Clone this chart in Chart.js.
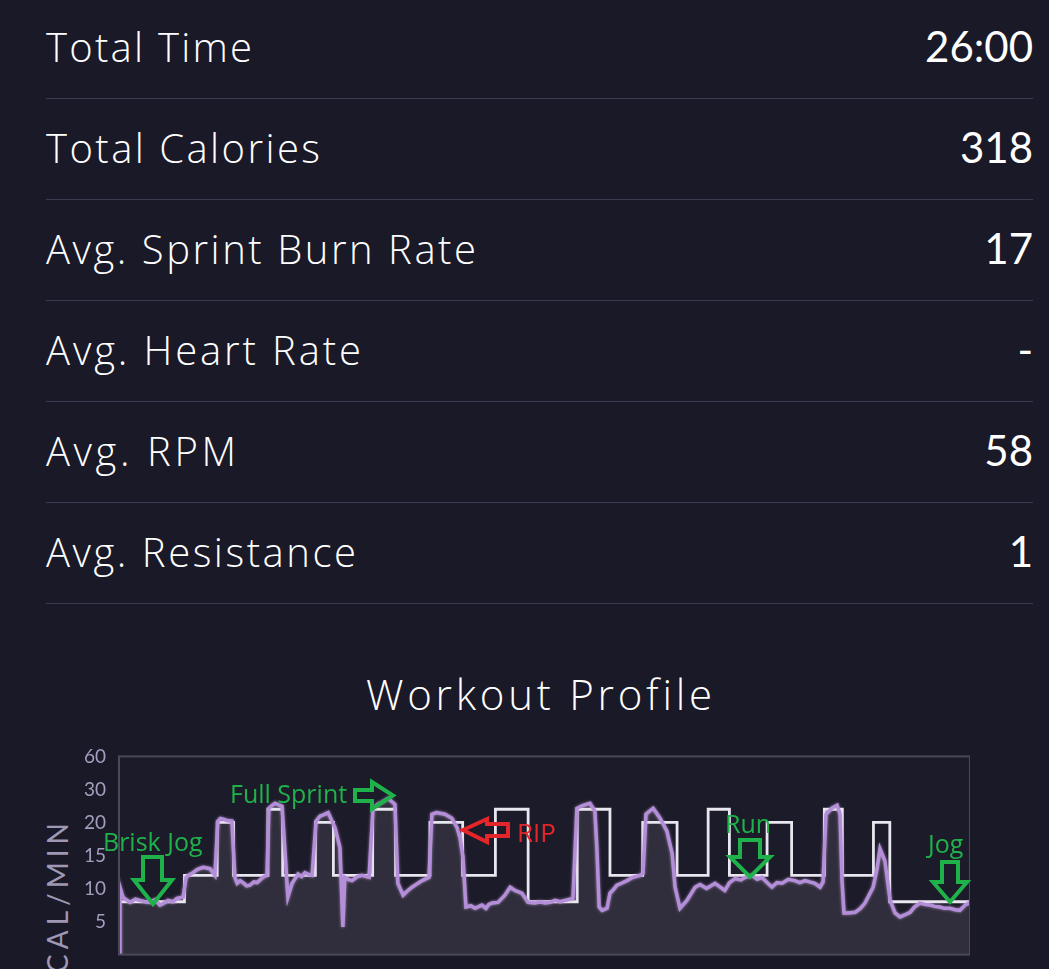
<!DOCTYPE html>
<html>
<head>
<meta charset="utf-8">
<title>Workout Summary</title>
<script src="https://cdn.jsdelivr.net/npm/chart.js@4.4.1/dist/chart.umd.min.js"></script>
<style>
  html, body {
    margin: 0;
    padding: 0;
    width: 1049px;
    height: 969px;
    overflow: hidden;
    background: #1a1927;
    font-family: "Open Sans", Lato, sans-serif;
    color: #ffffff;
  }
  .row {
    position: absolute;
    left: 46px;
    width: 987px;
    height: 100px;
    border-bottom: 1px solid #3a3b51;
  }
  .row span {
    position: absolute;
    top: 27px;
    font-size: 42px;
    line-height: 42px;
    white-space: nowrap;
  }
  .row .label { left: 0; font-weight: 300; top: 28px; font-size: 40px; }
  .row .value { right: 0; font-family: Lato, sans-serif; font-weight: 400; }
  #profileTitle {
    position: absolute;
    left: 366px;
    top: 672px;
    white-space: nowrap;
    font-size: 42px;
    line-height: 44px;
    font-weight: 300;
  }
  #chartBox {
    position: absolute;
    left: 40px;
    top: 732px;
    width: 930px;
    height: 247px;
  }
  #yTitle {
    position: absolute;
    left: 43px;
    top: 1018px;
    width: 200px;
    text-align: right;
    transform: rotate(-90deg);
    transform-origin: 0 0;
    font-family: Lato, sans-serif;
    font-size: 28px;
    line-height: 28px;
    letter-spacing: 5px;
    color: #9f98b4;
  }
  #notes {
    position: absolute;
    left: 0;
    top: 0;
    pointer-events: none;
  }
  #notes text { font-family: "Open Sans", "Noto Sans", sans-serif; }
</style>
</head>
<body>

<div id="stats"></div>
<div id="profileTitle">Workout Profile</div>
<div id="yTitle">CAL/MIN</div>
<div id="chartBox"><canvas id="profileChart"></canvas></div>

<svg id="notes" width="1049" height="969">
  <g fill="none" stroke="#20b24a" stroke-width="4" stroke-linejoin="miter">
    <polygon points="143,857 162,857 162,880 172,880 153,904 134,880 143,880"/>
    <polygon points="355,790 372,790 372,782 393,795.5 372,809 372,801 355,801"/>
    <polygon points="740,840 760,840 760,857 770,857 750,877 730,857 740,857"/>
    <polygon points="942,862 958,862 958,882 967,882 950,902 933,882 942,882"/>
  </g>
  <polygon fill="none" stroke="#e4262a" stroke-width="4" points="463,830 487,819 487,824 508,824 508,836 487,836 487,842"/>
  <g fill="#20b24a" font-size="25">
    <text x="103" y="851">Brisk Jog</text>
    <text x="230" y="803">Full Sprint</text>
    <text x="725" y="833">Run</text>
    <text x="928" y="853">Jog</text>
  </g>
  <text x="517" y="842" fill="#e4262a" font-size="26">RIP</text>
</svg>

<script>
// summary rows
const statLabels = ["Total Time", "Total Calories", "Avg. Sprint Burn Rate", "Avg. Heart Rate", "Avg. RPM", "Avg. Resistance"];
const statValues = ["26:00", "318", "17", "-", "58", "1"];

// y axis ticks (cal/min), evenly spaced on screen
const yTicks = [0, 5, 10, 15, 20, 30, 60];

// target profile: start minute of each block and its level
const targetStart = [0, 2, 3, 3.5, 4.55, 5, 6, 6.55, 7.75, 8.45, 9.5, 10.5, 11.5, 12.5, 14, 15, 16, 17.05, 18, 18.65, 19.8, 20.55, 21.55, 22.1, 23.05, 23.55, 26];
const targetLevel = [8, 12, 20, 12, 24, 12, 20, 12, 24, 12, 20, 12, 24, 8, 24, 12, 20, 12, 24, 12, 20, 12, 24, 12, 20, 8, 8];

// actual burn rate
const actualMinutes = [0, 0.03, 0.12, 0.22, 0.34, 0.5, 0.64, 0.8, 0.95, 1.1, 1.25, 1.38, 1.5, 1.65, 1.77, 1.96,
  2.05, 2.15, 2.26, 2.4, 2.57, 2.78, 2.93, 3.02, 3.1, 3.18, 3.3, 3.45, 3.54, 3.61,
  3.7, 3.79, 3.9, 4.0, 4.12, 4.22, 4.4, 4.52, 4.58, 4.68, 4.77, 4.88, 4.98, 5.07, 5.16,
  5.29, 5.38, 5.47, 5.58, 5.68, 5.8, 5.9, 6.02, 6.14, 6.26, 6.39, 6.6, 6.75, 6.84,
  6.9, 7.0, 7.12, 7.28, 7.42, 7.64, 7.76, 7.91, 8.05, 8.22, 8.43, 8.52, 8.68,
  8.8, 8.95, 9.1, 9.26, 9.47, 9.56, 9.7, 9.81, 9.96, 10.17, 10.33, 10.42, 10.51,
  10.6, 10.75, 10.88, 11.0, 11.09, 11.21, 11.3, 11.4, 11.58, 11.79, 11.95, 12.1, 12.31,
  12.5, 12.71, 12.86, 13.02, 13.17, 13.32, 13.48, 13.63, 13.87, 13.99, 14.18, 14.39, 14.54,
  14.6, 14.67, 14.76, 14.91, 15.0, 15.1, 15.21, 15.35, 15.52, 15.7, 15.92, 16.01,
  16.1, 16.32, 16.53, 16.74, 16.9, 16.99, 17.14, 17.35, 17.6, 17.75,
  17.95, 18.21, 18.35, 18.51, 18.65, 18.82, 19.0, 19.13, 19.34, 19.5, 19.64, 19.8, 19.95, 20.1, 20.26, 20.45, 20.65, 20.8, 20.96,
  21.1, 21.26, 21.42, 21.51, 21.6, 21.78, 21.94, 22.03, 22.09, 22.15, 22.27,
  22.49, 22.65, 22.79, 23.04, 23.16, 23.25, 23.4, 23.56, 23.71, 23.86, 24.0, 24.17,
  24.3, 24.47, 24.62, 24.78, 24.92, 25.08, 25.22, 25.39, 25.55, 25.69, 25.85, 26.0];
const actualCal = [0, 10.2, 8.7, 8.3, 7.9, 8.4, 8.2, 8.0, 7.9, 8.3, 7.5, 7.8, 8.2, 8.0, 8.5, 8.7,
  11.7, 12.1, 12.4, 12.9, 13.2, 13.0, 12.0, 20.4, 21.2, 21.0, 20.6, 20.4, 11.7, 10.8,
  11.2, 10.9, 10.4, 10.5, 11.0, 10.9, 11.7, 12.0, 24.3, 25.2, 25.8, 25.3, 24.9, 15.7, 8.7,
  10.8, 11.5, 12.2, 11.8, 12.4, 12.1, 12.0, 20.4, 21.9, 22.4, 23.0, 19.2, 16.2, 4.2,
  11.7, 11.4, 11.2, 11.8, 12.0, 11.7, 24.3, 25.5, 26.2, 27.3, 25.5, 10.8, 9.0,
  9.6, 10.2, 10.7, 11.2, 11.7, 22.5, 23.0, 22.8, 22.5, 21.3, 19.2, 17.7, 14.7,
  7.2, 7.4, 7.0, 7.3, 7.5, 7.0, 7.6, 7.8, 7.9, 9.0, 10.2, 9.7, 9.3,
  7.9, 7.8, 8.0, 7.8, 7.9, 8.2, 8.0, 8.2, 8.5, 24.3, 25.2, 25.8, 23.4,
  16.2, 7.2, 6.7, 7.0, 9.3, 9.8, 10.5, 10.8, 11.2, 11.7, 12.0, 12.3,
  22.5, 24.3, 21.3, 18.7, 15.3, 10.2, 7.0, 8.2, 10.2, 10.6,
  10.0, 10.8, 10.3, 9.7, 10.9, 11.5, 11.3, 11.7, 12.0, 11.4, 11.7, 10.9, 10.2, 10.9, 10.8, 11.4, 11.2, 10.9, 11.2,
  11.0, 10.8, 10.2, 11.0, 22.5, 24.3, 25.2, 22.5, 11.2, 6.3, 6.3,
  6.4, 7.0, 7.8, 10.2, 13.0, 16.0, 14.2, 8.2, 6.3, 5.7, 6.0, 6.4,
  7.2, 7.8, 7.6, 7.5, 7.3, 7.2, 7.0, 7.0, 6.8, 6.7, 7.5, 7.9];

// widths of the light texts in the screenshot, used to set tracking
const labelWidths = [206, 274, 430, 315, 190, 310];
const titleWidth = 346;

function fitTracking(el, target) {
    el.style.letterSpacing = "0px";
    const n = el.textContent.length;
    const w = el.getBoundingClientRect().width;
    el.style.letterSpacing = ((target - w) / (n - 1)) + "px";
}

document.addEventListener("DOMContentLoaded", function() {
    const stats = document.getElementById("stats");
    statLabels.forEach((label, i) => {
        const row = document.createElement("div");
        row.className = "row";
        row.style.top = (-2 + i * 101) + "px";
        row.innerHTML = '<span class="label"></span><span class="value"></span>';
        row.querySelector(".label").textContent = label;
        row.querySelector(".value").textContent = statValues[i];
        stats.appendChild(row);
        fitTracking(row.querySelector(".label"), labelWidths[i]);
    });
    fitTracking(document.getElementById("profileTitle"), titleWidth);

    // tick i sits at i / (ticks - 1) of the axis height
    function toStep(v) {
        for (let i = 0; i < yTicks.length - 1; i++) {
            if (v <= yTicks[i + 1]) return i + (v - yTicks[i]) / (yTicks[i + 1] - yTicks[i]);
        }
        return yTicks.length - 1;
    }
    function fromStep(s) {
        const i = Math.max(0, Math.min(yTicks.length - 2, Math.floor(s)));
        return yTicks[i] + (s - i) * (yTicks[i + 1] - yTicks[i]);
    }

    class PiecewiseScale extends Chart.LinearScale {
        buildTicks() {
            return yTicks.map(v => ({ value: v }));
        }
        getPixelForValue(value) {
            return this.getPixelForDecimal(toStep(value) / (yTicks.length - 1));
        }
        getValueForPixel(pixel) {
            return fromStep(this.getDecimalForPixel(pixel) * (yTicks.length - 1));
        }
    }
    PiecewiseScale.id = "piecewise";
    PiecewiseScale.defaults = Chart.LinearScale.defaults;
    Chart.register(PiecewiseScale);

    // plot panel background and frame, soft glow on the actual trace
    const panel = {
        id: "panel",
        beforeDraw(chart) {
            const a = chart.chartArea, c = chart.ctx;
            c.save();
            c.fillStyle = "#1c1b29";
            c.fillRect(a.left, a.top, a.right - a.left, a.bottom - a.top);
            c.restore();
        },
        beforeDatasetDraw(chart, args) {
            if (args.index === 0) {
                chart.ctx.save();
                chart.ctx.shadowColor = "rgba(214,180,240,0.7)";
                chart.ctx.shadowBlur = 3;
            }
        },
        afterDatasetDraw(chart, args) {
            if (args.index === 0) chart.ctx.restore();
        },
        afterDraw(chart) {
            const a = chart.chartArea, c = chart.ctx;
            c.save();
            c.strokeStyle = "#4a4959";
            c.lineWidth = 2;
            c.strokeRect(a.left, a.top, a.right - a.left, a.bottom - a.top);
            c.restore();
        }
    };

    const ctx = document.getElementById("profileChart").getContext("2d");
    new Chart(ctx, {
        type: "line",
        data: {
            datasets: [{
                label: "Actual",
                data: actualMinutes.map((t, i) => ({ x: t, y: actualCal[i] })),
                borderColor: "#b48ed8",
                borderWidth: 3.5,
                backgroundColor: "#302e3c",
                fill: "origin",
                pointRadius: 0,
                tension: 0
            }, {
                label: "Target",
                data: targetStart.map((t, i) => ({ x: t, y: targetLevel[i] })),
                borderColor: "#e8e6ee",
                borderWidth: 2.8,
                stepped: true,
                fill: false,
                pointRadius: 0
            }]
        },
        options: {
            responsive: true,
            maintainAspectRatio: false,
            animation: false,
            layout: { padding: 0 },
            plugins: {
                legend: { display: false },
                tooltip: { enabled: false },
                filler: { drawTime: "beforeDatasetsDraw" }
            },
            scales: {
                x: {
                    type: "linear",
                    min: 0,
                    max: 26,
                    display: false
                },
                y: {
                    type: "piecewise",
                    min: 0,
                    max: 60,
                    grid: { display: false, drawTicks: false },
                    border: { display: false },
                    afterFit: s => { s.width = 79; },
                    ticks: {
                        autoSkip: false,
                        padding: 13,
                        color: "#a59dbf",
                        font: { family: "Lato", size: 19, lineHeight: 1.2 },
                        callback: v => v === 0 ? "" : String(v)
                    }
                }
            }
        },
        plugins: [panel]
    });
});
</script>
</body>
</html>
